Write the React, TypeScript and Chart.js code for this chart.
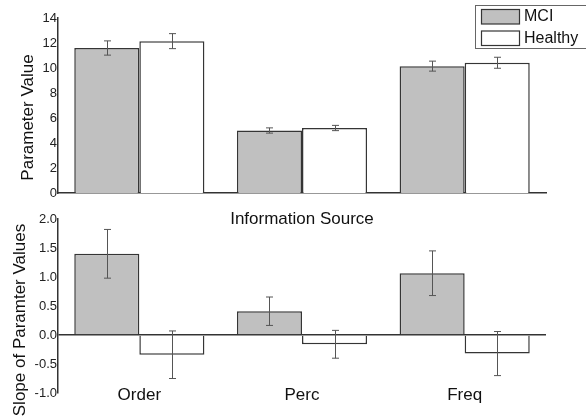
import React, { useEffect, useRef } from "react";
import { Chart, registerables } from "chart.js";

Chart.register(...registerables);

const categories = ["Order", "Perc", "Freq"];
const seriesNames = ["MCI", "Healthy"];

const paramMCI = [11.6, 5.0, 10.15];
const paramMCIErr = [0.57, 0.21, 0.4];
const paramHealthy = [12.15, 5.2, 10.42];
const paramHealthyErr = [0.6, 0.21, 0.44];

const slopeMCI = [1.4, 0.41, 1.065];
const slopeMCIErr = [0.42, 0.245, 0.385];
const slopeHealthy = [-0.34, -0.16, -0.32];
const slopeHealthyErr = [0.41, 0.24, 0.38];

const topAxisTitle = "Parameter Value";
const bottomAxisTitle = "Slope of Paramter Values";
const sourceTitle = "Information Source";

const FONT = "'Liberation Sans', Arial, sans-serif";
const MCI_FILL = "#c0c0c0";
const HEALTHY_FILL = "#ffffff";
const EDGE = "#353535";

const errorBarsPlugin = {
  id: "errorBars",
  afterDatasetsDraw(chart: any, _args: any, opts: any) {
    const errs: number[][] = opts.errors || [];
    const ctx = chart.ctx;
    const yScale = chart.scales.y;
    ctx.save();
    ctx.strokeStyle = "#555";
    ctx.lineWidth = 1;
    chart.data.datasets.forEach((ds: any, i: number) => {
      const meta = chart.getDatasetMeta(i);
      meta.data.forEach((bar: any, j: number) => {
        const v = ds.data[j];
        const e = errs[i] ? errs[i][j] : 0;
        const x = Math.round(bar.x) + 0.5;
        const y1 = yScale.getPixelForValue(v + e);
        const y2 = yScale.getPixelForValue(v - e);
        const cap = 3.5;
        ctx.beginPath();
        ctx.moveTo(x, y1);
        ctx.lineTo(x, y2);
        ctx.moveTo(x - cap, y1);
        ctx.lineTo(x + cap, y1);
        ctx.moveTo(x - cap, y2);
        ctx.lineTo(x + cap, y2);
        ctx.stroke();
      });
    });
    ctx.restore();
  },
};

const sideTitlePlugin = {
  id: "sideTitle",
  afterDraw(chart: any, _args: any, opts: any) {
    if (!opts.text) return;
    const ctx = chart.ctx;
    ctx.save();
    ctx.translate(opts.x, opts.y);
    ctx.rotate(-Math.PI / 2);
    ctx.font = `17px ${FONT}`;
    ctx.fillStyle = "#111";
    ctx.textAlign = "center";
    ctx.textBaseline = "middle";
    ctx.fillText(opts.text, 0, 0);
    ctx.restore();
  },
};

const legendBoxPlugin = {
  id: "legendBox",
  afterDraw(chart: any, _args: any, opts: any) {
    if (!opts.show) return;
    const ctx = chart.ctx;
    ctx.save();
    ctx.strokeStyle = "#666";
    ctx.lineWidth = 1;
    ctx.strokeRect(475.5, 5.5, 120, 43);
    const fills = [MCI_FILL, HEALTHY_FILL];
    const ys = [9.5, 31];
    ctx.font = `16px ${FONT}`;
    ctx.textBaseline = "middle";
    ctx.textAlign = "left";
    seriesNames.forEach((name, i) => {
      ctx.fillStyle = fills[i];
      ctx.fillRect(481.5, ys[i], 38, 14.5);
      ctx.strokeStyle = EDGE;
      ctx.lineWidth = 1.2;
      ctx.strokeRect(481.5, ys[i], 38, 14.5);
      ctx.fillStyle = "#111";
      ctx.fillText(name, 524, ys[i] + 7.5);
    });
    ctx.restore();
  },
};

Chart.register(errorBarsPlugin, sideTitlePlugin, legendBoxPlugin);

function TopChart() {
  const ref = useRef<HTMLCanvasElement>(null);
  useEffect(() => {
    if (!ref.current) return;
    const chart = new Chart(ref.current, {
      type: "bar",
      data: {
        labels: categories,
        datasets: [
          {
            label: seriesNames[0],
            data: paramMCI,
            backgroundColor: MCI_FILL,
            borderColor: EDGE,
            borderWidth: 1.5,
            categoryPercentage: 0.8,
            barPercentage: 1.0,
          },
          {
            label: seriesNames[1],
            data: paramHealthy,
            backgroundColor: HEALTHY_FILL,
            borderColor: EDGE,
            borderWidth: 1.5,
            categoryPercentage: 0.8,
            barPercentage: 1.0,
          },
        ],
      },
      options: {
        responsive: false,
        animation: false,
        layout: { padding: { top: 18, right: 40, left: 0, bottom: 0 } },
        plugins: {
          legend: { display: false },
          tooltip: { enabled: false },
          errorBars: { errors: [paramMCIErr, paramHealthyErr] },
          sideTitle: { text: topAxisTitle, x: 28.5, y: 117.5 },
          legendBox: { show: true },
        } as any,
        scales: {
          x: {
            grid: { display: false, drawTicks: false, tickLength: 0 },
            border: { display: true, color: "#333", width: 1.5 },
            ticks: { display: false },
            title: {
              display: true,
              text: sourceTitle,
              font: { family: FONT, size: 17 },
              color: "#111",
              padding: { top: 0, bottom: 10 },
            },
            afterFit: (s: any) => {
              s.height = 47;
            },
          },
          y: {
            min: 0,
            max: 14,
            ticks: {
              stepSize: 2,
              font: { family: FONT, size: 13 },
              color: "#222",
              padding: 1,
            },
            grid: { display: false, drawTicks: false, tickLength: 0 },
            border: { display: true, color: "#333", width: 1.5 },
            afterFit: (s: any) => {
              s.width = 58;
            },
          },
        },
      } as any,
    });
    return () => chart.destroy();
  }, []);
  return (
    <canvas
      ref={ref}
      width={586}
      height={240}
      style={{ position: "absolute", left: 0, top: 0, width: 586, height: 240 }}
    />
  );
}

function BottomChart() {
  const ref = useRef<HTMLCanvasElement>(null);
  useEffect(() => {
    if (!ref.current) return;
    const chart = new Chart(ref.current, {
      type: "bar",
      data: {
        labels: categories,
        datasets: [
          {
            label: seriesNames[0],
            data: slopeMCI,
            backgroundColor: MCI_FILL,
            borderColor: EDGE,
            borderWidth: 1.5,
            categoryPercentage: 0.8,
            barPercentage: 1.0,
          },
          {
            label: seriesNames[1],
            data: slopeHealthy,
            backgroundColor: HEALTHY_FILL,
            borderColor: EDGE,
            borderWidth: 1.5,
            categoryPercentage: 0.8,
            barPercentage: 1.0,
          },
        ],
      },
      options: {
        responsive: false,
        animation: false,
        layout: { padding: { top: 19, right: 40, left: 0, bottom: 0 } },
        plugins: {
          legend: { display: false },
          tooltip: { enabled: false },
          errorBars: { errors: [slopeMCIErr, slopeHealthyErr] },
          sideTitle: { text: bottomAxisTitle, x: 20, y: 120 },
          legendBox: { show: false },
        } as any,
        scales: {
          x: {
            grid: { display: false, drawTicks: false, tickLength: 0 },
            border: { display: false },
            ticks: {
              font: { family: FONT, size: 17 },
              color: "#111",
              mirror: true,
              padding: -13,
              maxRotation: 0,
            },
            afterFit: (s: any) => {
              s.height = 23;
            },
          },
          y: {
            min: -1,
            max: 2,
            ticks: {
              stepSize: 0.5,
              font: { family: FONT, size: 13 },
              color: "#222",
              padding: 1,
              callback: (v: any) => Number(v).toFixed(1),
            },
            grid: {
              display: true,
              drawTicks: false,
              tickLength: 0,
              lineWidth: 1.5,
              color: (c: any) =>
                c.tick && c.tick.value === 0 ? "#333" : "rgba(0,0,0,0)",
            },
            border: { display: true, color: "#333", width: 1.5 },
            afterFit: (s: any) => {
              s.width = 58;
            },
          },
        },
      } as any,
    });
    return () => chart.destroy();
  }, []);
  return (
    <canvas
      ref={ref}
      width={586}
      height={216}
      style={{ position: "absolute", left: 0, top: 200, width: 586, height: 216 }}
    />
  );
}

export default function App() {
  return (
    <div
      style={{
        position: "absolute",
        left: 0,
        top: 0,
        width: 586,
        height: 416,
        overflow: "hidden",
        background: "#fff",
      }}
    >
      <TopChart />
      <BottomChart />
    </div>
  );
}
